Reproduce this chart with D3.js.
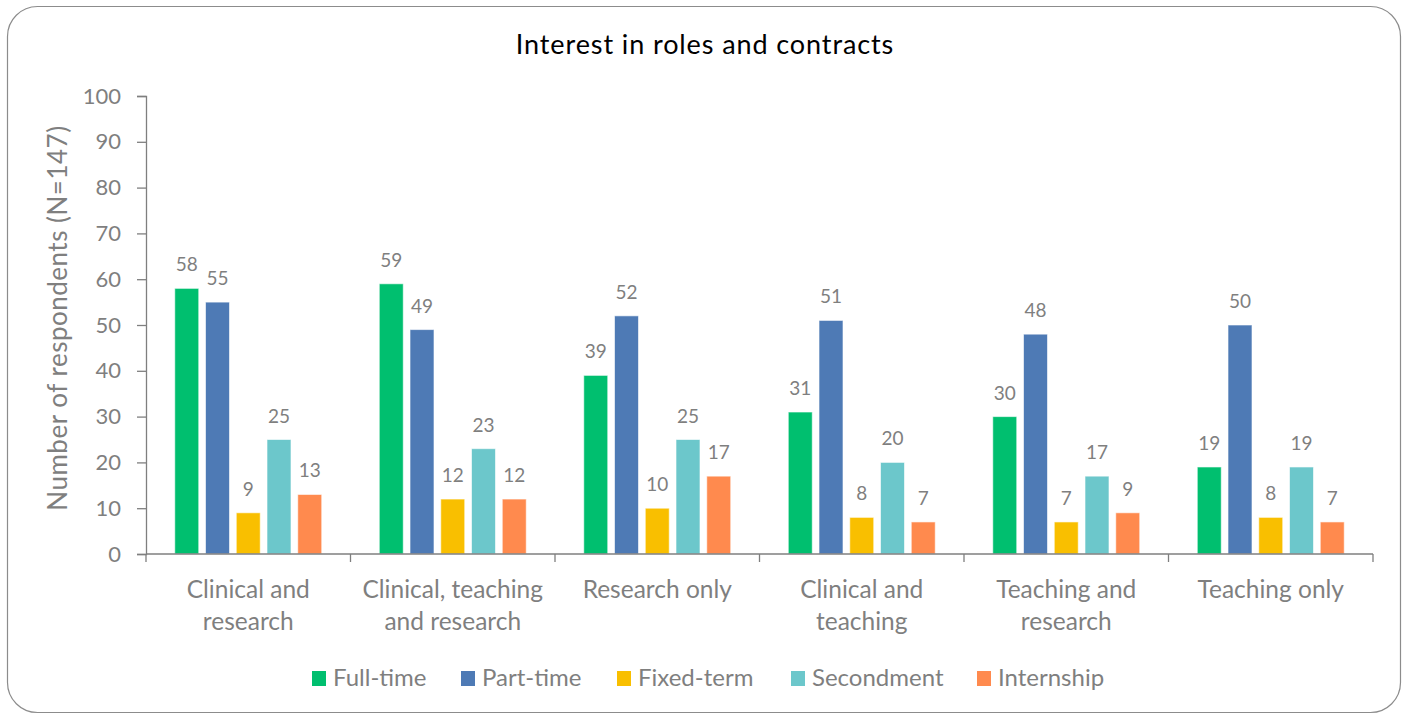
<!DOCTYPE html>
<html>
<head>
<meta charset="utf-8">
<script src="https://cdn.jsdelivr.net/npm/d3@7"></script>
<style>
  html, body { margin: 0; padding: 0; background: #fff; }
  svg text { font-family: Lato, "Open Sans", sans-serif; }
</style>
</head>
<body>
<svg id="chart" width="1407" height="715"></svg>
<script>
const categories = [
  ["Clinical and", "research"],
  ["Clinical, teaching", "and research"],
  ["Research only"],
  ["Clinical and", "teaching"],
  ["Teaching and", "research"],
  ["Teaching only"]
];
const seriesNames = ["Full-time", "Part-time", "Fixed-term", "Secondment", "Internship"];
const fullTime   = [58, 59, 39, 31, 30, 19];
const partTime   = [55, 49, 52, 51, 48, 50];
const fixedTerm  = [9, 12, 10, 8, 7, 8];
const secondment = [25, 23, 25, 20, 17, 19];
const internship = [13, 12, 17, 7, 9, 7];
const yTicks = [0, 10, 20, 30, 40, 50, 60, 70, 80, 90, 100];
const colors = ["#00BF6F", "#4E7AB5", "#F9BF00", "#6CC7CB", "#FF8A4E"];

const seriesValues = [fullTime, partTime, fixedTerm, secondment, internship];

const svg = d3.select("#chart");
const grey = "#7f7f7f";

// outer frame
svg.append("rect")
  .attr("x", 7.5).attr("y", 6.5)
  .attr("width", 1393).attr("height", 706)
  .attr("rx", 30).attr("ry", 30)
  .attr("fill", "none").attr("stroke", "#8c8c8c").attr("stroke-width", 1.2);

// title
svg.append("text")
  .attr("x", 705).attr("y", 54)
  .attr("text-anchor", "middle")
  .attr("font-size", 27).attr("fill", "#000")
  .attr("letter-spacing", 0.9)
  .text("Interest in roles and contracts");

const plotLeft = 146, plotRight = 1373, plotTop = 96, plotBottom = 554;

const x0 = d3.scaleBand()
  .domain(d3.range(categories.length))
  .range([plotLeft, plotRight])
  .paddingInner(0).paddingOuter(0);

const x1 = d3.scaleBand()
  .domain(d3.range(seriesNames.length))
  .range([22, x0.bandwidth() - 22])
  .padding(0.22);

const y = d3.scaleLinear().domain([0, 100]).range([plotBottom, plotTop]);

// y axis
const yAxis = svg.append("g")
  .attr("transform", `translate(${plotLeft},0)`)
  .call(d3.axisLeft(y).tickValues(yTicks).tickSize(9).tickPadding(16));
yAxis.select(".domain").attr("stroke", grey).attr("stroke-width", 1.3);
yAxis.selectAll(".tick line").attr("stroke", grey).attr("stroke-width", 1.3);
yAxis.selectAll(".tick text")
  .attr("fill", grey).attr("font-size", 22)
  .style("font-family", "Lato, sans-serif");

// y axis title
svg.append("text")
  .attr("transform", "translate(67,318) rotate(-90)")
  .attr("text-anchor", "middle")
  .attr("font-size", 26).attr("fill", grey)
  .attr("letter-spacing", 0.5)
  .text("Number of respondents (N=147)");

// bars
const groups = svg.append("g").selectAll("g")
  .data(categories)
  .join("g")
  .attr("transform", (d, i) => `translate(${x0(i)},0)`);

groups.each(function (_, ci) {
  const g = d3.select(this);
  seriesValues.forEach((vals, si) => {
    const v = vals[ci];
    g.append("rect")
      .attr("x", x1(si))
      .attr("y", y(v))
      .attr("width", x1.bandwidth())
      .attr("height", y(0) - y(v))
      .attr("fill", colors[si])
      .attr("stroke", "#ffffff").attr("stroke-opacity", 0.6).attr("stroke-width", 1);
    g.append("text")
      .attr("x", x1(si) + x1.bandwidth() / 2)
      .attr("y", y(v) - 17)
      .attr("text-anchor", "middle")
      .attr("font-size", 19).attr("fill", grey)
      .text(v);
  });
});

// x axis
const xAxisG = svg.append("g");
xAxisG.append("line")
  .attr("x1", plotLeft).attr("x2", plotRight)
  .attr("y1", plotBottom).attr("y2", plotBottom)
  .attr("stroke", grey).attr("stroke-width", 1.3);
const boundaries = d3.range(categories.length + 1).map(i => i < categories.length ? x0(i) : x0(i - 1) + x0.bandwidth());
xAxisG.selectAll("line.tick")
  .data(boundaries)
  .join("line")
  .attr("class", "tick")
  .attr("x1", d => d).attr("x2", d => d)
  .attr("y1", plotBottom).attr("y2", plotBottom + 8)
  .attr("stroke", grey).attr("stroke-width", 1.3);

// category labels
categories.forEach((lines, i) => {
  const t = svg.append("text")
    .attr("text-anchor", "middle")
    .attr("font-size", 24.5).attr("fill", grey);
  lines.forEach((ln, j) => {
    t.append("tspan")
      .attr("x", x0(i) + x0.bandwidth() / 2)
      .attr("y", 598 + j * 32)
      .text(ln);
  });
});

// legend
const legendX = [312, 461, 617, 791, 977];
seriesNames.forEach((name, i) => {
  const lx = legendX[i];
  svg.append("rect")
    .attr("x", lx).attr("y", 671)
    .attr("width", 14).attr("height", 15)
    .attr("fill", colors[i]);
  svg.append("text")
    .attr("x", lx + 21).attr("y", 686)
    .attr("font-size", 24).attr("fill", grey)
    .text(name);
});
</script>
</body>
</html>
